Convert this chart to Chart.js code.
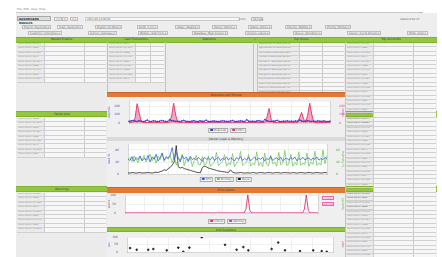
<!DOCTYPE html>
<html lang="en">
<head>
<meta charset="UTF-8" />
<title>Monitoring Dashboard</title>
<script src="https://cdn.jsdelivr.net/npm/chart.js"></script>
<style>
  body { margin:0; width:442px; height:257px; background:#fff; overflow:hidden; position:relative;
         font-family:'DejaVu Sans', sans-serif; font-size:3px; color:#666; }
  .a { position:absolute; box-sizing:border-box; }
  .bar { text-align:center; line-height:5px; color:#444; font-size:3px; white-space:nowrap; overflow:hidden; }
  .green { background:#93c83e; border-top:1px solid #7fb22c; border-bottom:1px solid #7fb22c; }
  .orange { background:#e27a35; border-top:1px solid #c9642a; }
  .grey { background:#d9d9d9; }
  .panel { background:#ebebeb; }
  .chartbox { background:#efefef; }
  .vline { background:#c2c2c2; width:1px; }
  .row { display:flex; height:3.4px; border-bottom:0.8px solid #d0d0d0; font-size:2.4px; line-height:2.6px; color:#888; white-space:nowrap; }
  .row span { overflow:hidden; }
  .row .c1 { width:16px; padding-left:1px; }
  .row .c2 { width:10px; }
  .row .c3 { flex:1; background:#f7f7f7; border-left:0.8px solid #ccc; }
  .row .c4 { width:24%; background:#f7f7f7; border-left:0.8px solid #ccc; }
  .wide .c1 { width:30px; }
  .flt { border:0.8px solid #bdbdbd; background:#f4f4f4; height:4px; line-height:3.6px; font-size:2.6px; padding:0 1px; color:#666; white-space:nowrap; }
  .pinkbox { border:0.8px solid #e56aa6; color:#d4458c; font-size:2.4px; line-height:3px; text-align:center; background:#fdf4fa; }
  .legend { display:flex; gap:2px; transform:translateX(-50%); white-space:nowrap; }
  .legend .item { border:0.8px solid #a8a8a8; background:#f8f8f8; font-size:2.6px; line-height:3.2px; padding:0 1px; color:#555; }
  .legend .sw { display:inline-block; width:3px; height:2px; margin-right:1px; }
</style>
</head>
<body>
  <!-- menu + toolbar -->
  <div class="a" style="left:17px;top:7px;font-size:2.8px;color:#777;">File&nbsp;&nbsp;Edit&nbsp;&nbsp;View&nbsp;&nbsp;Help</div>
  <div class="a" style="left:16px;top:12px;width:407px;height:1px;background:#c9c9c9;"></div>
  <div class="a" style="left:419px;top:12px;width:4px;height:5px;border:0.8px solid #bbb;"></div>
  <div class="a" style="left:16px;top:13px;width:421px;height:24px;background:#eeeeee;"></div>
  <div class="a" style="left:17px;top:16px;width:34px;height:5px;background:#dcdcdc;border:0.8px solid #aaa;font-size:2.8px;font-weight:bold;color:#333;line-height:4px;padding-left:1px;">DASHBOARD RESULTS</div>
  <div class="a flt" style="left:54px;top:17px;">&lt;&lt;</div>
  <div class="a flt" style="left:62px;top:17px;">1</div>
  <div class="a flt" style="left:70px;top:17px;">&gt;&gt;</div>
  <div class="a" style="left:85px;top:17px;width:155px;height:4px;border:0.8px solid #ccc;background:#f9f9f9;font-size:2.6px;line-height:3.4px;padding-left:1px;">2012-05-14 08:00</div>
  <div class="a" style="left:239px;top:18px;font-size:2.6px;">Limit</div>
  <div class="a flt" style="left:251px;top:17px;width:12px;">50 rows</div>
  <div class="a" style="left:400px;top:18px;font-size:2.6px;">Updated 08:15</div>

  <div id="filters1"></div>
  <div id="filters2"></div>

  <!-- content background -->
  <div class="a panel" style="left:16px;top:42px;width:421px;height:215px;"></div>

  <!-- top header bar -->
  <div class="a bar green" style="left:16px;top:37px;width:421px;height:6px;"></div>
  <div class="a bar" style="left:16px;top:37px;width:91px;">Recent Events</div>
  <div class="a bar" style="left:107px;top:37px;width:58px;">Last Executions</div>
  <div class="a bar" style="left:165px;top:37px;width:88px;">Statistics</div>
  <div class="a bar" style="left:253px;top:37px;width:4px;">i</div>
  <div class="a bar" style="left:257px;top:37px;width:88px;">Top Hosts</div>
  <div class="a bar" style="left:345px;top:37px;width:92px;">Top Accounts</div>

  <!-- left column -->
  <div class="a bar green" style="left:16px;top:111px;width:92px;height:6px;">Failed Jobs</div>
  <div class="a bar green" style="left:16px;top:186px;width:92px;height:6px;">Warnings</div>
  <!-- right column -->
  <div class="a bar green" style="left:344px;top:111px;width:93px;height:6px;">Queue Sizes</div>
  <div class="a bar green" style="left:344px;top:186px;width:93px;height:6px;">Active Sessions</div>

  <div id="t1" class="a" style="left:17px;top:43px;width:89px;"></div>
  <div id="t2" class="a" style="left:108px;top:43px;width:56px;"></div>
  <div id="t3" class="a wide" style="left:258px;top:43px;width:86px;"></div>
  <div id="t4" class="a" style="left:346px;top:43px;width:90px;"></div>
  <div id="t5" class="a" style="left:17px;top:118px;width:89px;"></div>
  <div id="t6" class="a" style="left:17px;top:193px;width:89px;"></div>
  <div id="t7" class="a" style="left:346px;top:118px;width:90px;"></div>
  <div id="t8" class="a" style="left:346px;top:193px;width:90px;"></div>

  <!-- middle charts -->
  <div class="a bar orange" style="left:107px;top:92px;width:238px;height:5px;">Requests per Minute</div>
  <div class="a chartbox" style="left:107px;top:97px;width:238px;height:40px;"><canvas id="c1"></canvas></div>
  <div class="a bar grey" style="left:107px;top:137px;width:238px;height:4px;line-height:4px;">Server Load &amp; Memory</div>
  <div class="a chartbox" style="left:107px;top:141px;width:238px;height:46px;"><canvas id="c2"></canvas></div>
  <div class="a bar orange" style="left:107px;top:187px;width:238px;height:6px;">Error Alerts</div>
  <div class="a chartbox" style="left:107px;top:193px;width:238px;height:34px;"><canvas id="c3"></canvas></div>
  <div class="a pinkbox" style="left:322px;top:196px;width:12px;height:4px;">critical</div>
  <div class="a pinkbox" style="left:322px;top:202px;width:12px;height:4px;">warning</div>
  <div class="a bar green" style="left:107px;top:227px;width:238px;height:5px;">Job Durations</div>
  <div class="a chartbox" style="left:107px;top:232px;width:238px;height:25px;"><canvas id="c4"></canvas></div>

  <div id="lg1" class="a legend" style="left:227px;top:128px;"></div>
  <div id="lg2" class="a legend" style="left:226px;top:177px;"></div>
  <div id="lg3" class="a legend" style="left:227px;top:219px;"></div>

  <div class="a vline" style="left:107px;top:42px;height:50px;"></div>
  <div class="a vline" style="left:165px;top:42px;height:50px;"></div>
  <div class="a vline" style="left:253px;top:42px;height:50px;"></div>
  <div class="a vline" style="left:257px;top:42px;height:50px;"></div>
  <div class="a vline" style="left:345px;top:42px;height:215px;"></div>

<script>
  // ---- chart data ----
  const dayTicks = ['05/14', '05/15', '05/16', '05/17', '05/18', '05/19', '05/20', '05/21', '05/22', '05/23'];

  const requests = [
    20, 24, 30, 22, 18, 26, 20, 17, 22, 34,
    19, 18, 26, 21, 17, 20, 29, 23, 19, 18,
    38, 26, 24, 19, 21, 18, 23, 31, 20, 19,
    17, 22, 27, 19, 18, 25, 21, 20, 33, 19,
    18, 21, 24, 19, 17, 20, 26, 22, 19, 18,
    23, 29, 19, 17, 21, 25, 20, 18, 37, 22,
    19, 21, 18, 23, 27, 20, 19, 41, 25, 19,
    18, 21, 23, 31, 19, 17, 22, 20, 25, 19,
    21, 18, 24, 20, 36, 23, 19, 21, 27, 20,
    18, 22, 19, 25, 21, 20, 23, 19, 18, 21
  ];
  const errors = [
    6, 8, 10, 60, 228, 120, 22, 8, 5, 6,
    5, 7, 6, 5, 8, 6, 5, 7, 6, 5,
    10, 82, 232, 92, 12, 6, 5, 8, 6, 5,
    6, 5, 7, 6, 5, 8, 6, 5, 6, 7,
    5, 6, 8, 5, 6, 7, 5, 6, 5, 8,
    6, 5, 7, 6, 5, 6, 8, 5, 6, 5,
    7, 5, 6, 8, 5, 6, 7, 10, 72, 172,
    42, 8, 6, 5, 7, 6, 5, 8, 6, 5,
    6, 7, 5, 8, 62, 125, 50, 9, 92, 232,
    105, 12, 6, 5, 7, 6, 5, 6, 8, 5
  ];

  const cpuLoad = [
    50, 45, 58, 42, 55, 48, 60, 44, 52, 47,
    62, 40, 57, 49, 66, 43, 54, 70, 46, 58,
    52, 64, 88, 47, 72, 55, 40, 61, 50, 57,
    44, 59, 48, 53, 46, 55, 50, 42, 56, 49,
    53, 47, 58, 45, 51, 56, 44, 52, 48, 57,
    46, 54, 50, 43, 55, 49, 58, 45, 52, 47,
    56, 44, 51, 57, 46, 53, 49, 55, 43, 52,
    48, 58, 45, 51, 54, 47, 56, 44, 50, 53,
    46, 55, 49, 57, 44, 52, 48, 56, 47, 51,
    54, 45, 53, 49, 57, 46, 52, 48, 55, 50
  ];
  const memory = [
    48, 55, 42, 60, 50, 38, 58, 45, 62, 40,
    52, 66, 44, 58, 36, 60, 48, 70, 42, 55,
    50, 62, 38, 58, 30, 52, 45, 66, 28, 50,
    40, 55, 25, 46, 62, 32, 30, 58, 28, 36,
    60, 25, 34, 40, 72, 28, 35, 42, 64, 26,
    38, 30, 68, 24, 36, 44, 75, 28, 34, 40,
    65, 26, 36, 30, 74, 28, 38, 24, 70, 32,
    28, 62, 34, 40, 26, 72, 30, 36, 78, 28,
    34, 66, 26, 38, 30, 74, 28, 36, 32, 70,
    26, 40, 32, 76, 28, 36, 30, 80, 34, 62
  ];
  const queue = [
    4, 3, 5, 4, 3, 4, 5, 3, 4, 4,
    5, 4, 3, 5, 6, 5, 8, 10, 14, 12,
    18, 22, 30, 40, 95, 24, 20, 22, 18, 16,
    14, 12, 10, 8, 6, 5, 4, 22, 26, 24,
    20, 18, 16, 14, 12, 10, 9, 8, 7, 6,
    5, 14, 6, 4, 3, 4, 5, 4, 3, 4,
    4, 3, 5, 4, 3, 4, 5, 4, 3, 4,
    5, 4, 3, 4, 5, 4, 3, 4, 5, 4,
    4, 3, 5, 4, 3, 4, 5, 4, 3, 4,
    5, 4, 3, 4, 5, 4, 3, 4, 5, 4
  ];

  const alerts = [
    0, 0, 0, 0, 0, 0, 0, 0, 0, 0,
    0, 0, 0, 0, 0, 0, 0, 0, 0, 0,
    0, 0, 0, 0, 0, 0, 0, 0, 0, 0,
    0, 0, 0, 0, 0, 0, 0, 0, 0, 0,
    0, 0, 0, 0, 0, 0, 0, 0, 0, 0,
    0, 0, 0, 0, 0, 0, 0, 0, 0, 0,
    0, 0, 20, 100, 15, 0, 0, 0, 0, 0,
    0, 0, 0, 0, 0, 0, 0, 0, 0, 0,
    0, 0, 0, 0, 0, 0, 0, 0, 0, 0,
    0, 0, 20, 100, 15, 0, 0, 0, 0, 0
  ];
  const warnings = [
    0, 0, 0, 0, 0, 0, 0, 0, 0, 0,
    0, 0, 0, 0, 0, 0, 0, 0, 0, 0,
    0, 0, 0, 0, 0, 0, 0, 0, 0, 0,
    0, 0, 0, 0, 0, 0, 0, 0, 0, 0,
    0, 0, 0, 0, 0, 0, 0, 0, 0, 0,
    0, 0, 0, 0, 0, 0, 0, 0, 0, 0,
    0, 0, 0, 0, 0, 0, 0, 0, 0, 0,
    0, 0, 0, 0, 0, 0, 0, 0, 0, 0,
    0, 0, 0, 0, 0, 0, 0, 0, 0, 0,
    0, 0, 0, 0, 0, 0, 0, 0, 0, 0
  ];

  const jobX = [1.5, 4.7, 10.3, 12.8, 19.3, 24.9, 27.3, 30.3, 36.3, 47.6, 53.2, 56.5, 58.9, 70.2, 73.4, 76.7, 84, 90.4, 94.5, 97];
  const jobY = [26, 15, 15, 20, 11, 29, 2, 29, 98, 48, 15, 33, 11, 20, 63, 11, 6, 11, 6, 2];

  // ---- table / filter text ----
  const filterRow1 = ['Project: Payments', 'Team: Backend', 'Region: EU-West', 'Build: 2.4.1', 'Stage: Staging', 'Owner: Admin', 'Status: Active', 'Pipeline: Nightly', 'Priority: Normal'];
  const filterRow2 = ['Customer: Enterprise', 'Service: Gateway', 'Module: Auth Core', 'Database: Main Cluster', 'Version: Latest', 'Queue: Scheduler', 'Source: Event Stream', 'Mode: Auto'];
  const eventRows = [
    ['2012-05-14 08:12', '1,024'], ['2012-05-14 08:10', '982'], ['2012-05-14 08:07', '1,310'],
    ['2012-05-14 08:05', '874'], ['2012-05-14 08:01', '1,102'], ['2012-05-14 07:58', '966'],
    ['2012-05-14 07:54', '1,240'], ['2012-05-14 07:51', '905'], ['2012-05-14 07:47', '1,087'],
    ['2012-05-14 07:43', '938'], ['2012-05-14 07:40', '1,156'], ['2012-05-14 07:36', '872'],
    ['2012-05-14 07:33', '1,019'], ['2012-05-14 07:29', '994'], ['2012-05-14 07:25', '1,275'],
    ['2012-05-14 07:22', '861'], ['2012-05-14 07:18', '1,048'], ['2012-05-14 07:15', '927'],
    ['2012-05-14 07:11', '1,193'], ['2012-05-14 07:08', '889'], ['2012-05-14 07:04', '1,066']
  ];
  const hostRows = [
    ['app-server-01.example.net:8080', '8'], ['app-server-02.example.net:8080', '6'],
    ['db-node-03.example.net:5432', '5'], ['cache-01.example.net:6379', '5'],
    ['worker-07.example.net:9000', '4'], ['worker-02.example.net:9000', '4'],
    ['api-gw-01.example.net:443', '3'], ['api-gw-02.example.net:443', '3'],
    ['mq-broker-01.example.net:5672', '2'], ['search-01.example.net:9200', '2'],
    ['batch-04.example.net:7000', '2'], ['proxy-01.example.net:80', '1'],
    ['auth-01.example.net:8443', '1']
  ];

  // ---- build layout pieces ----
  function buildFilters(id, items, starts, top) {
    const el = document.getElementById(id);
    items.forEach((t, i) => {
      const d = document.createElement('div');
      d.className = 'a flt';
      d.style.left = starts[i] + 'px';
      d.style.top = top + 'px';
      d.textContent = t + ' \u25BE';
      el.appendChild(d);
    });
  }
  buildFilters('filters1', filterRow1, [22, 57, 95, 137, 175, 212, 248, 285, 325], 25);
  buildFilters('filters2', filterRow2, [28, 88, 138, 192, 245, 293, 347, 407], 31);

  function buildTable(id, rows) {
    const el = document.getElementById(id);
    rows.forEach(r => {
      const row = document.createElement('div');
      row.className = 'row';
      row.innerHTML = `<span class="c1">${r[0]}</span><span class="c2">${r[1]}</span><span class="c3"></span><span class="c4"></span>`;
      el.appendChild(row);
    });
  }
  buildTable('t1', eventRows.slice(0, 9));
  buildTable('t2', eventRows.slice(3, 12));
  buildTable('t3', hostRows);
  buildTable('t4', eventRows.concat(eventRows).slice(0, 20));
  buildTable('t5', eventRows.slice(5, 14));
  buildTable('t6', eventRows.slice(8, 17));
  buildTable('t7', eventRows.concat(eventRows).slice(4, 25));
  buildTable('t8', eventRows.concat(eventRows).slice(2, 21));

  // ---- charts ----
  Chart.defaults.font.family = "'DejaVu Sans', sans-serif";
  Chart.defaults.font.size = 3;
  Chart.defaults.animation = false;
  Chart.defaults.color = '#666';

  const plotBg = {
    id: 'plotBg',
    beforeDraw(c) {
      const { ctx, chartArea: a } = c;
      ctx.save();
      ctx.fillStyle = '#fff';
      ctx.fillRect(a.left, a.top, a.width, a.height);
      ctx.restore();
    }
  };

  const idx = arr => arr.map((_, i) => i);
  const dayTick = (v, i) => (i % 10 === 0 ? dayTicks[i / 10] : null);
  const fixH = h => s => { s.height = h; };
  // fixed axis width, no extra room above/below for the tick labels
  const fixW = w => s => { s.width = w; s.paddingTop = 0; s.paddingBottom = 0; };
  const noLegend = { legend: { display: false }, tooltip: { enabled: false } };

  function htmlLegend(id, chart) {
    const el = document.getElementById(id);
    chart.data.datasets.forEach(ds => {
      const it = document.createElement('span');
      it.className = 'item';
      it.innerHTML = `<span class="sw" style="background:${ds.borderColor}"></span>${ds.label}`;
      el.appendChild(it);
    });
  }

  const chart1 = new Chart(document.getElementById('c1'), {
    type: 'line',
    data: {
      labels: idx(requests),
      datasets: [
        { label: 'Requests', data: requests, borderColor: '#3d3dc9', backgroundColor: '#3d3dc9', borderWidth: 0.8, pointRadius: 0.5 },
        { label: 'Errors', data: errors, borderColor: '#e0306e', backgroundColor: 'rgba(228,60,120,0.45)', fill: true, borderWidth: 0.9, pointRadius: 0 }
      ]
    },
    options: {
      responsive: true, maintainAspectRatio: false,
      layout: { padding: { top: 1, bottom: 10 } },
      plugins: noLegend,
      scales: {
        x: { grid: { color: '#f0f0f0' }, ticks: { autoSkip: false, maxRotation: 0, callback: dayTick, padding: 0 }, afterFit: fixH(4) },
        y: { min: 0, max: 250, ticks: { stepSize: 50, color: '#5555cc', padding: 1 }, grid: { color: '#f0f0f0' },
             title: { display: true, text: 'req/min', color: '#5555cc', padding: 0 }, afterFit: fixW(22) },
        y1: { position: 'right', min: 0, max: 250, ticks: { stepSize: 50, color: '#d4458c', padding: 1 }, grid: { display: false },
              title: { display: true, text: 'errors', color: '#d4458c', padding: 0 }, afterFit: fixW(15) }
      }
    },
    plugins: [plotBg]
  });
  htmlLegend('lg1', chart1);

  const chart2 = new Chart(document.getElementById('c2'), {
    type: 'line',
    data: {
      labels: idx(cpuLoad),
      datasets: [
        { label: 'CPU', data: cpuLoad, borderColor: '#3f5fd8', backgroundColor: '#3f5fd8', borderWidth: 0.8, pointRadius: 0 },
        { label: 'Memory', data: memory, borderColor: '#6dcc5a', backgroundColor: '#6dcc5a', borderWidth: 0.8, pointRadius: 0, yAxisID: 'y1' },
        { label: 'Queue', data: queue, borderColor: '#222', backgroundColor: '#222', borderWidth: 0.8, pointRadius: 0 }
      ]
    },
    options: {
      responsive: true, maintainAspectRatio: false,
      layout: { padding: { top: 3, bottom: 9 } },
      plugins: noLegend,
      scales: {
        x: { grid: { color: '#f0f0f0' }, ticks: { autoSkip: false, maxRotation: 0, callback: dayTick, padding: 0 }, afterFit: fixH(4) },
        y: { min: 0, max: 100, ticks: { stepSize: 20, color: '#5555cc', padding: 1 }, grid: { color: '#f0f0f0' },
             title: { display: true, text: 'load %', color: '#5555cc', padding: 0 }, afterFit: fixW(21) },
        y1: { position: 'right', min: 0, max: 100, ticks: { stepSize: 20, color: '#55aa44', padding: 1 }, grid: { display: false },
              title: { display: true, text: 'memory %', color: '#55aa44', padding: 0 }, afterFit: fixW(18) }
      }
    },
    plugins: [plotBg]
  });
  htmlLegend('lg2', chart2);

  const chart3 = new Chart(document.getElementById('c3'), {
    type: 'line',
    data: {
      labels: idx(alerts),
      datasets: [
        { label: 'Critical', data: alerts, borderColor: '#e0306e', backgroundColor: '#e0306e', borderWidth: 0.9, pointRadius: 0, order: 1 },
        { label: 'Warning', data: warnings, borderColor: '#b04cc8', backgroundColor: '#b04cc8', borderWidth: 0.6, pointRadius: 0, order: 2 }
      ]
    },
    options: {
      responsive: true, maintainAspectRatio: false,
      layout: { padding: { top: 2, bottom: 10 } },
      plugins: noLegend,
      scales: {
        x: { grid: { color: '#f0f0f0' }, ticks: { autoSkip: false, maxRotation: 0, callback: dayTick, padding: 0 }, afterFit: fixH(4) },
        y: { min: 0, max: 100, ticks: { stepSize: 50, color: '#666', padding: 1 }, grid: { color: '#f0f0f0' },
             title: { display: true, text: 'alerts', color: '#666', padding: 0 }, afterFit: fixW(18) },
        y1: { position: 'right', min: 0, max: 100, ticks: { display: false }, grid: { display: false },
              title: { display: true, text: 'severity', color: '#55aa44', padding: 0 }, afterFit: fixW(27) }
      }
    },
    plugins: [plotBg]
  });
  htmlLegend('lg3', chart3);

  new Chart(document.getElementById('c4'), {
    type: 'scatter',
    data: {
      datasets: [
        { label: 'Duration', data: jobX.map((x, i) => ({ x, y: jobY[i] })), backgroundColor: '#222', borderColor: '#222', pointRadius: 0.8 }
      ]
    },
    options: {
      responsive: true, maintainAspectRatio: false,
      layout: { padding: { top: 2, bottom: 1 } },
      plugins: noLegend,
      scales: {
        x: { min: 0, max: 100, grid: { color: '#f0f0f0' }, ticks: { stepSize: 10, maxRotation: 0, padding: 0,
             callback: v => dayTicks[v / 10] }, afterFit: fixH(4) },
        y: { min: 0, max: 100, ticks: { stepSize: 25, color: '#666', padding: 1 }, grid: { color: '#f0f0f0' },
             title: { display: true, text: 'sec', color: '#5555cc', padding: 0 }, afterFit: fixW(20) },
        y1: { position: 'right', min: 0, max: 100, ticks: { display: false }, grid: { display: false },
              title: { display: true, text: 'jobs', color: '#d4458c', padding: 0 }, afterFit: fixW(12) }
      }
    },
    plugins: [plotBg]
  });
</script>
</body>
</html>
